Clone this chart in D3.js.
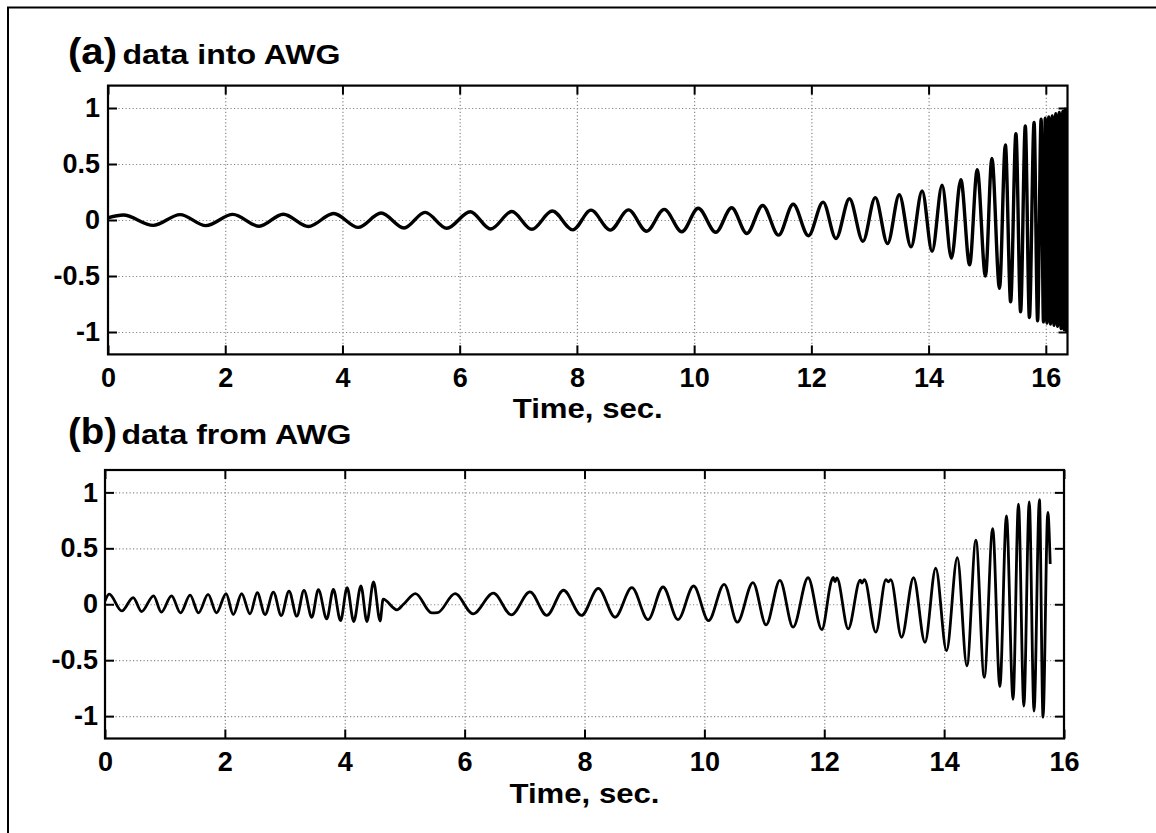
<!DOCTYPE html>
<html>
<head>
<meta charset="utf-8">
<script src="https://cdn.jsdelivr.net/npm/d3@7"></script>
<style>
  body { margin: 0; background: #fff; }
  svg text { font-family: "Liberation Sans", Arial, sans-serif; font-weight: bold; fill: #000; }
</style>
</head>
<body>
<svg id="chart" width="1156" height="833"></svg>
<script>
// peaks / troughs, panel (a): chirp going into the AWG
const timeA = [0, 0.26, 0.77, 1.23, 1.67, 2.13, 2.58, 2.99, 3.42, 3.85,
  4.27, 4.66, 5.05, 5.41, 5.78, 6.18, 6.53, 6.89, 7.23, 7.58,
  7.93, 8.24, 8.57, 8.88, 9.19, 9.49, 9.79, 10.07, 10.37, 10.64,
  10.90, 11.17, 11.44, 11.69, 11.95, 12.20, 12.42, 12.65, 12.88, 13.09,
  13.30, 13.50, 13.70, 13.89, 14.06, 14.23, 14.39, 14.55, 14.70, 14.83,
  14.97, 15.08, 15.21, 15.31, 15.40, 15.49, 15.57, 15.65, 15.72, 15.80,
  15.86, 15.92, 15.96, 15.99, 16.02, 16.05, 16.08, 16.11, 16.14, 16.17,
  16.20, 16.23, 16.26, 16.29, 16.31, 16.33, 16.35, 16.37];
const signalA = [0.02, 0.045, -0.048, 0.048, -0.05, 0.05, -0.056, 0.052, -0.058, 0.058,
  -0.066, 0.062, -0.072, 0.068, -0.074, 0.074, -0.08, 0.076, -0.083, 0.08,
  -0.088, 0.088, -0.09, 0.09, -0.1, 0.095, -0.105, 0.105, -0.11, 0.11,
  -0.12, 0.13, -0.135, 0.14, -0.14, 0.16, -0.165, 0.19, -0.19, 0.2,
  -0.21, 0.225, -0.24, 0.26, -0.28, 0.31, -0.34, 0.36, -0.4, 0.45,
  -0.5, 0.55, -0.61, 0.67, -0.73, 0.77, -0.82, 0.84, -0.87, 0.87,
  -0.9, 0.9, -0.91, 0.91, -0.92, 0.92, -0.93, 0.93, -0.94, 0.95,
  -0.95, 0.96, -0.97, 0.97, -0.98, 0.99, -0.99, 1.0];

// panel (b): what came back out of the AWG
const timeB = [0, 0.07, 0.28, 0.47, 0.61, 0.81, 0.94, 1.11, 1.26, 1.42,
  1.56, 1.72, 1.86, 2.02, 2.14, 2.28, 2.42, 2.54, 2.67, 2.81,
  2.94, 3.07, 3.20, 3.32, 3.45, 3.56, 3.70, 3.81, 3.93, 4.04,
  4.15, 4.27, 4.37, 4.48, 4.59, 4.64, 4.87, 4.98, 5.18, 5.45,
  5.55, 5.84, 6.14, 6.48, 6.78, 7.09, 7.37, 7.65, 7.95, 8.23,
  8.51, 8.79, 9.06, 9.31, 9.56, 9.82, 10.07, 10.33, 10.55, 10.81,
  11.03, 11.26, 11.48, 11.73, 11.96, 12.12, 12.15, 12.18, 12.21, 12.40,
  12.60, 12.63, 12.67, 12.86, 13.03, 13.07, 13.11, 13.29, 13.49, 13.68,
  13.86, 14.04, 14.22, 14.38, 14.53, 14.67, 14.81, 14.93, 15.04, 15.15,
  15.24, 15.33, 15.42, 15.50, 15.59, 15.65, 15.73, 15.77];
const signalB = [0.03, 0.09, -0.06, 0.06, -0.065, 0.075, -0.07, 0.075, -0.077, 0.082,
  -0.077, 0.088, -0.077, 0.094, -0.092, 0.094, -0.086, 0.103, -0.092, 0.109,
  -0.101, 0.118, -0.107, 0.124, -0.116, 0.13, -0.131, 0.133, -0.146, 0.148,
  -0.155, 0.163, -0.155, 0.2, -0.15, 0.045, -0.05, 0.0, 0.095, -0.077,
  -0.075, 0.095, -0.086, 0.1, -0.095, 0.11, -0.1, 0.125, -0.1, 0.142,
  -0.116, 0.148, -0.137, 0.154, -0.137, 0.163, -0.146, 0.178, -0.16, 0.193,
  -0.184, 0.214, -0.205, 0.237, -0.226, 0.21, 0.24, 0.2, 0.235, -0.22,
  0.215, 0.19, 0.22, -0.25, 0.22, 0.2, 0.22, -0.295, 0.237, -0.34,
  0.322, -0.415, 0.417, -0.55, 0.572, -0.653, 0.675, -0.735, 0.79, -0.85,
  0.895, -0.91, 0.915, -0.955, 0.935, -1.01, 0.82, 0.36];

const xTicks = [0, 2, 4, 6, 8, 10, 12, 14, 16];
const yTicks = [-1, -0.5, 0, 0.5, 1];
const yLabels = ["-1", "-0.5", "0", "0.5", "1"];

const panels = [
  { tag: "(a)", title: "data into AWG", titleLen: 218, tagX: 68, titleX: 122.5, baseY: 63.5,
    left: 108, right: 1067.5, top: 85.6, bottom: 354.4, xMax: 16.37, lw: 3.4,
    t: timeA, v: signalA, labPad: 8 },
  { tag: "(b)", title: "data from AWG", titleLen: 230, tagX: 68, titleX: 121.5, baseY: 444,
    left: 105, right: 1064, top: 470, bottom: 738.5, xMax: 16, lw: 2.8,
    t: timeB, v: signalB, labPad: 7 }
];

const svg = d3.select("#chart");

// outer frame (only top and left edges show in the picture)
svg.append("path")
  .attr("d", "M8,833 L8,7.5 L1156,7.5")
  .attr("fill", "none").attr("stroke", "#000").attr("stroke-width", 2);

panels.forEach((p, i) => {
  const w = p.right - p.left, h = p.bottom - p.top;
  const x = d3.scaleLinear().domain([0, p.xMax]).range([0, w]);
  const y = d3.scaleLinear().domain([-1.2, 1.2]).range([h, 0]);

  const g = svg.append("g").attr("transform", `translate(${p.left},${p.top})`);

  // dotted grid
  g.append("g").attr("class", "grid")
    .attr("transform", `translate(0,${h})`)
    .call(d3.axisBottom(x).tickValues(xTicks).tickSize(-h).tickFormat(""));
  g.append("g").attr("class", "grid")
    .call(d3.axisLeft(y).tickValues(yTicks).tickSize(-w).tickFormat(""));
  g.selectAll(".grid .domain").remove();
  g.selectAll(".grid line")
    .attr("stroke", "#8a8a8a").attr("stroke-width", 1.2).attr("stroke-dasharray", "1.2,2.3");

  // signal
  const clipId = "clip" + i;
  g.append("clipPath").attr("id", clipId)
    .append("rect").attr("width", w).attr("height", h);
  const pts = p.t.map((t, k) => [t, p.v[k]]);
  const line = d3.line().x(d => x(d[0])).y(d => y(d[1])).curve(d3.curveMonotoneX);
  g.append("path")
    .datum(pts)
    .attr("clip-path", `url(#${clipId})`)
    .attr("d", line)
    .attr("fill", "none").attr("stroke", "#000")
    .attr("stroke-width", p.lw).attr("stroke-linejoin", "round");

  // ticks pointing inward on all four sides
  const tk = 9;
  const bottomAxis = g.append("g").attr("class", "ax").attr("transform", `translate(0,${h})`)
    .call(d3.axisBottom(x).tickValues(xTicks).tickSizeInner(-tk).tickSizeOuter(0)
      .tickPadding(13).tickFormat(d3.format("d")));
  g.append("g").attr("class", "ax")
    .call(d3.axisTop(x).tickValues(xTicks).tickSizeInner(-tk).tickSizeOuter(0).tickFormat(""));
  const leftAxis = g.append("g").attr("class", "ax")
    .call(d3.axisLeft(y).tickValues(yTicks).tickSizeInner(-tk).tickSizeOuter(0)
      .tickPadding(p.labPad).tickFormat((d, k) => yLabels[k]));
  g.append("g").attr("class", "ax").attr("transform", `translate(${w},0)`)
    .call(d3.axisRight(y).tickValues(yTicks).tickSizeInner(-tk).tickSizeOuter(0).tickFormat(""));

  g.selectAll(".ax .domain").remove();
  [bottomAxis, leftAxis].forEach(a => a.selectAll("text").attr("font-size", 27));
  g.selectAll(".ax .tick line").attr("stroke", "#000").attr("stroke-width", 2);

  // box
  g.append("rect").attr("width", w).attr("height", h)
    .attr("fill", "none").attr("stroke", "#000").attr("stroke-width", 2.2);

  // x label
  svg.append("text")
    .attr("x", p.left + w / 2).attr("y", p.bottom + 64)
    .attr("text-anchor", "middle").attr("font-size", 28)
    .attr("textLength", 150).attr("lengthAdjust", "spacingAndGlyphs")
    .text("Time, sec.");

  // panel tag and title
  svg.append("text")
    .attr("x", p.tagX).attr("y", p.baseY)
    .attr("font-size", 36).attr("textLength", 49).attr("lengthAdjust", "spacingAndGlyphs")
    .text(p.tag);
  svg.append("text")
    .attr("x", p.titleX).attr("y", p.baseY)
    .attr("font-size", 28).attr("textLength", p.titleLen).attr("lengthAdjust", "spacingAndGlyphs")
    .text(p.title);
});
</script>
</body>
</html>
